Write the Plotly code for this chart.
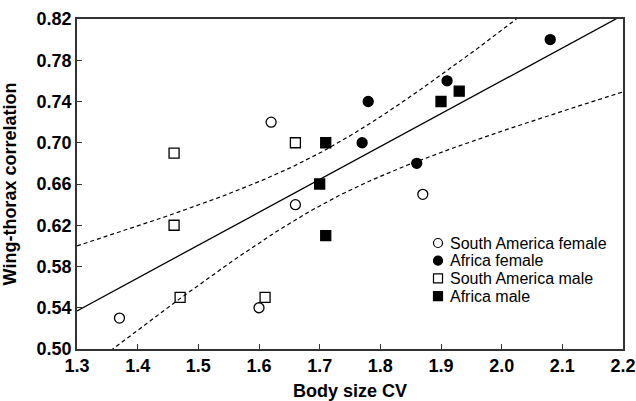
import numpy as np
import plotly.graph_objects as go

# Data
sa_female_x = [1.37, 1.60, 1.62, 1.66, 1.87]
sa_female_y = [0.53, 0.54, 0.72, 0.64, 0.65]
af_female_x = [1.77, 1.78, 1.86, 1.91, 2.08]
af_female_y = [0.70, 0.74, 0.68, 0.76, 0.80]
sa_male_x = [1.46, 1.46, 1.47, 1.61, 1.66]
sa_male_y = [0.69, 0.62, 0.55, 0.55, 0.70]
af_male_x = [1.70, 1.71, 1.71, 1.90, 1.93]
af_male_y = [0.66, 0.70, 0.61, 0.74, 0.75]

series_names = ["South America female", "Africa female", "South America male", "Africa male"]
series_symbols = ["circle-open", "circle", "square-open", "square"]

x_ticks = [1.3, 1.4, 1.5, 1.6, 1.7, 1.8, 1.9, 2.0, 2.1, 2.2]
x_tick_labels = ["1.3", "1.4", "1.5", "1.6", "1.7", "1.8", "1.9", "2.0", "2.1", "2.2"]
y_ticks = [0.50, 0.54, 0.58, 0.62, 0.66, 0.70, 0.74, 0.78, 0.82]
y_tick_labels = ["0.50", "0.54", "0.58", "0.62", "0.66", "0.70", "0.74", "0.78", "0.82"]

# Regression with 95% confidence band of the mean
X = np.array(sa_female_x + af_female_x + sa_male_x + af_male_x)
Y = np.array(sa_female_y + af_female_y + sa_male_y + af_male_y)
n = len(X)
slope, intercept = np.polyfit(X, Y, 1)
resid = Y - (slope * X + intercept)
s = np.sqrt(np.sum(resid ** 2) / (n - 2))
sxx = np.sum((X - X.mean()) ** 2)
t_crit = 2.101  # t(0.975, df=18)
xg = np.linspace(1.3, 2.2, 300)
yfit = slope * xg + intercept
half = t_crit * s * np.sqrt(1.0 / n + (xg - X.mean()) ** 2 / sxx)

FONT = "Liberation Sans, Arial, Helvetica, sans-serif"
W, H = 636, 401
ML, MR, MT, MB = 77, 13, 19, 52
PW, PH = W - ML - MR, H - MT - MB

fig = go.Figure()
fig.add_trace(go.Scatter(x=xg, y=yfit, mode="lines", line=dict(color="black", width=1.3),
                         showlegend=False, hoverinfo="skip"))
for band in (yfit + half, yfit - half):
    fig.add_trace(go.Scatter(x=xg, y=band, mode="lines",
                             line=dict(color="black", width=1.2, dash="4px,3px"),
                             showlegend=False, hoverinfo="skip"))

mk = dict(size=10, line=dict(color="black", width=1.3))
series_x = [sa_female_x, af_female_x, sa_male_x, af_male_x]
series_y = [sa_female_y, af_female_y, sa_male_y, af_male_y]
for name, sym, sx, sy in zip(series_names, series_symbols, series_x, series_y):
    fig.add_trace(go.Scatter(x=sx, y=sy, mode="markers", name=name, showlegend=False,
                             marker=dict(symbol=sym, color="black", **mk)))

# Custom legend (compact row spacing), placed in plot-pixel units on an overlay axis
leg_x, leg_top, leg_step = 361, 106, 17.7
leg_y = [leg_top - i * leg_step for i in range(len(series_names))]
for name, sym, yy in zip(series_names, series_symbols, leg_y):
    fig.add_trace(go.Scatter(x=[leg_x], y=[yy], xaxis="x2", yaxis="y2", mode="markers",
                             showlegend=False, hoverinfo="skip",
                             marker=dict(symbol=sym, color="black", size=9,
                                         line=dict(color="black", width=1.2))))
    fig.add_annotation(x=leg_x + 10, y=yy, xref="x2", yref="y2", text=name,
                       showarrow=False, xanchor="left", yanchor="middle",
                       font=dict(size=16, family=FONT, color="black"))

fig.update_layout(
    width=W, height=H,
    margin=dict(l=ML, r=MR, t=MT, b=MB),
    paper_bgcolor="white", plot_bgcolor="white",
    font=dict(family=FONT, color="black"),
    showlegend=False,
    xaxis2=dict(overlaying="x", range=[0, PW], visible=False, fixedrange=True),
    yaxis2=dict(overlaying="y", range=[0, PH], visible=False, fixedrange=True),
)
axis_common = dict(
    showgrid=False, zeroline=False, showline=True, mirror=True,
    linecolor="#333", linewidth=1.5, automargin=False,
    ticks="inside", ticklen=5, tickwidth=1.2, tickcolor="#333",
    tickfont=dict(size=18, family=FONT, color="black"),
)
fig.update_layout(
    xaxis=dict(range=[1.3, 2.2], tickvals=x_ticks,
               ticktext=["<b>%s</b>" % t for t in x_tick_labels],
               title=dict(text="<b>Body size CV</b>", font=dict(size=18, family=FONT)),
               **axis_common),
    yaxis=dict(range=[0.50, 0.82], tickvals=y_ticks,
               ticktext=["<b>%s</b>" % t for t in y_tick_labels],
               title=dict(text="<b>Wing-thorax correlation</b>", font=dict(size=18, family=FONT)),
               **axis_common),
)

fig.write_html("out.html")
